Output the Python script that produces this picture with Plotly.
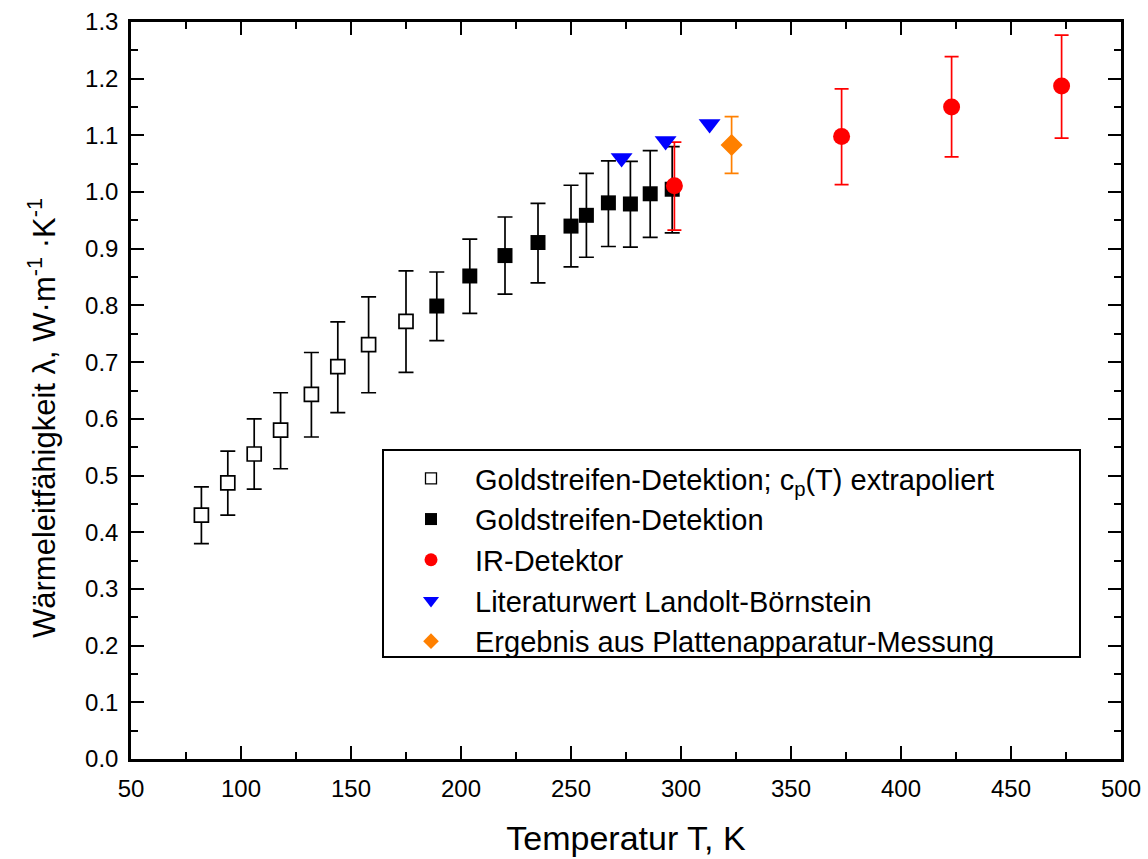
import plotly.graph_objects as go

# ---- data ----
T_open = [82, 94, 106, 118, 132, 144, 158, 175]
L_open = [0.430, 0.487, 0.538, 0.580, 0.643, 0.692, 0.731, 0.772]
E_open_plus = [0.050, 0.056, 0.062, 0.066, 0.074, 0.079, 0.084, 0.089]
E_open_minus = [0.050, 0.057, 0.062, 0.068, 0.075, 0.081, 0.085, 0.090]

T_fill = [189, 204, 220, 235, 250, 257, 267, 277, 286, 296]
L_fill = [0.799, 0.852, 0.888, 0.911, 0.940, 0.959, 0.981, 0.979, 0.997, 1.005]
E_fill_plus = [0.060, 0.065, 0.068, 0.069, 0.072, 0.074, 0.074, 0.075, 0.076, 0.075]
E_fill_minus = [0.061, 0.066, 0.068, 0.071, 0.072, 0.074, 0.077, 0.076, 0.077, 0.077]

T_ir = [297, 373, 423, 473]
L_ir = [1.011, 1.098, 1.150, 1.187]
E_ir_plus = [0.077, 0.084, 0.089, 0.090]
E_ir_minus = [0.078, 0.085, 0.088, 0.092]

T_lit = [273, 293, 313]
L_lit = [1.06, 1.09, 1.12]

T_plate = [323]
L_plate = [1.083]
E_plate_plus = [0.050]
E_plate_minus = [0.050]

names = [
    "Goldstreifen-Detektion; c<sub>p</sub>(T) extrapoliert",
    "Goldstreifen-Detektion",
    "IR-Detektor",
    "Literaturwert Landolt-Börnstein",
    "Ergebnis aus Plattenapparatur-Messung",
]

x_ticks = list(range(50, 501, 50))
y_ticks = [round(0.1 * i, 1) for i in range(0, 14)]
y_ticktext = [f"{v:.1f}" for v in y_ticks]

x_title = "Temperatur T, K"
y_title = "Wärmeleitfähigkeit λ, W·m<sup>-1</sup> ·K<sup>-1</sup>"

FONT = "Liberation Sans, Arial, Helvetica, sans-serif"
ORANGE = "#FF8000"
BLUE = "#0000FF"
RED = "#FF0000"

fig = go.Figure()

def eb(plus, minus, color, width=7.5, th=1.7):
    return dict(type="data", symmetric=False, array=plus, arrayminus=minus,
                color=color, thickness=th, width=width)

fig.add_trace(go.Scatter(
    x=T_open, y=L_open, mode="markers", showlegend=False,
    marker=dict(symbol="square", size=14, color="white", line=dict(color="black", width=1.7)),
    error_y=eb(E_open_plus, E_open_minus, "black")))
fig.add_trace(go.Scatter(
    x=T_fill, y=L_fill, mode="markers", showlegend=False,
    marker=dict(symbol="square", size=15, color="black", line=dict(width=0)),
    error_y=eb(E_fill_plus, E_fill_minus, "black")))
fig.add_trace(go.Scatter(
    x=T_ir, y=L_ir, mode="markers", showlegend=False,
    marker=dict(symbol="circle", size=17, color=RED, line=dict(width=0)),
    error_y=eb(E_ir_plus, E_ir_minus, RED, width=7)))
fig.add_trace(go.Scatter(
    x=T_lit, y=L_lit, mode="markers", showlegend=False,
    marker=dict(symbol="triangle-down", size=19, color=BLUE, line=dict(width=0))))
fig.add_trace(go.Scatter(
    x=T_plate, y=L_plate, mode="markers", showlegend=False,
    marker=dict(symbol="diamond", size=17, color=ORANGE, line=dict(width=0)),
    error_y=eb(E_plate_plus, E_plate_minus, ORANGE, width=7)))

# legend-only entries (smaller symbols as in the reference legend)
leg_markers = [
    dict(symbol="square", size=11, color="white", line=dict(color="black", width=1.3)),
    dict(symbol="square", size=12, color="black", line=dict(width=0)),
    dict(symbol="circle", size=13, color=RED, line=dict(width=0)),
    dict(symbol="triangle-down", size=14, color=BLUE, line=dict(width=0)),
    dict(symbol="diamond", size=12, color=ORANGE, line=dict(width=0)),
]
for nm, mk in zip(names, leg_markers):
    fig.add_trace(go.Scatter(x=[None], y=[None], mode="markers", name=nm, marker=mk, showlegend=True))

L, R, TOP, B = 131, 1121, 22, 759
W, H = 1148, 859

def px2paper_x(p):
    return (p - L) / (R - L)

def px2paper_y(p):
    return (B - p) / (B - TOP)

axis_common = dict(
    showline=True, linecolor="black", linewidth=2.5, mirror="ticks",
    ticks="inside", ticklen=13, tickwidth=2, tickcolor="black",
    showgrid=False, zeroline=False, automargin=False,
    tickfont=dict(family=FONT, size=24, color="black"),
)

fig.update_layout(
    width=W, height=H,
    margin=dict(l=L, r=W - R, t=TOP, b=H - B, autoexpand=False),
    paper_bgcolor="white", plot_bgcolor="white",
    font=dict(family=FONT, color="black"),
    xaxis=dict(
        range=[50, 500], tickvals=x_ticks, ticktext=[str(v) for v in x_ticks],
        minor=dict(ticks="inside", ticklen=7, tickwidth=2, tickcolor="black", dtick=25, showgrid=False),
        ticklabelstandoff=6,
        title=dict(text=x_title, font=dict(family=FONT, size=34), standoff=26),
        **axis_common),
    yaxis=dict(
        range=[0, 1.3], tickvals=y_ticks, ticktext=y_ticktext,
        minor=dict(ticks="inside", ticklen=7, tickwidth=2, tickcolor="black", dtick=0.05, showgrid=False),
        ticklabelstandoff=5,
        **axis_common),
    legend=dict(
        x=px2paper_x(387), y=px2paper_y(453), xanchor="left", yanchor="top",
        bgcolor="rgba(255,255,255,0)", borderwidth=0,
        font=dict(family=FONT, size=29, color="black"),
        itemwidth=78, tracegroupgap=0,
    ),
    shapes=[dict(type="rect", xref="paper", yref="paper",
                 x0=px2paper_x(383), x1=px2paper_x(1080),
                 y0=px2paper_y(657), y1=px2paper_y(450),
                 line=dict(color="black", width=2), fillcolor="rgba(0,0,0,0)")],
    annotations=[dict(text=y_title, textangle=-90, xref="paper", yref="paper",
                      x=px2paper_x(42), y=px2paper_y(418), xanchor="center", yanchor="middle",
                      showarrow=False, font=dict(family=FONT, size=31, color="black"))],
)

fig.write_html("out.html")
